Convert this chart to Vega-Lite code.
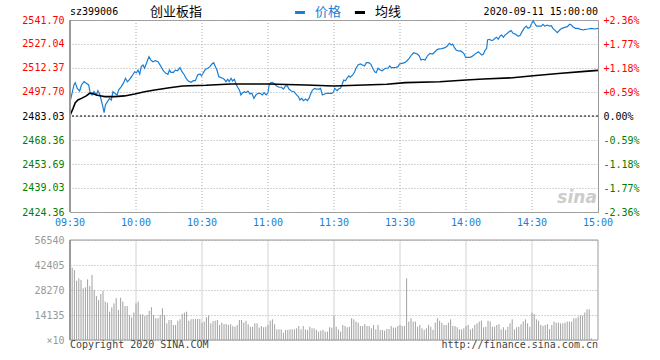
{
  "$schema": "https://vega.github.io/schema/vega-lite/v6.json",
  "width": 528,
  "height": 192,
  "autosize": {"type": "none"},
  "padding": {"left": 70, "top": 20, "right": 62, "bottom": 148},
  "background": "white",
  "data": {"values": [{}]},
  "config": {
    "font": "DejaVu Sans Mono",
    "view": {"stroke": "#9a9a9a", "strokeWidth": 1},
    "axis": {"labelFont": "DejaVu Sans Mono", "labelFontSize": 10, "labelFlush": false, "labelOverlap": false, "labelBound": false, "grid": false},
    "text": {"font": "DejaVu Sans Mono"}
  },
  "datasets": {
    "price": [
      {"t":0,"p":2491.5},{"t":1.8,"p":2502.0},{"t":2.4,"p":2503.4},{"t":3.3,"p":2499.9},{"t":4.4,"p":2498.3},{"t":5.2,"p":2502.0},{"t":6.4,"p":2504.0},{"t":7.4,"p":2503.0},{"t":8.5,"p":2502.0},{"t":9.2,"p":2496.9},{"t":10,"p":2495.9},{"t":10.9,"p":2497.9},{"t":12,"p":2495.9},{"t":12.7,"p":2498.5},{"t":13.5,"p":2496.5},{"t":14.2,"p":2492.8},{"t":15,"p":2488.3},{"t":15.5,"p":2485.1},{"t":16.1,"p":2489.8},{"t":17,"p":2491.8},{"t":18,"p":2493.8},{"t":18.8,"p":2492.8},{"t":19.5,"p":2497.9},{"t":20.3,"p":2496.9},{"t":21.4,"p":2495.9},{"t":22.1,"p":2498.9},{"t":23.3,"p":2501.0},{"t":24.4,"p":2503.4},{"t":25.2,"p":2506.1},{"t":26.1,"p":2504.0},{"t":27.1,"p":2505.4},{"t":28.2,"p":2507.5},{"t":29.4,"p":2510.1},{"t":30.2,"p":2509.5},{"t":30.9,"p":2511.1},{"t":31.7,"p":2508.7},{"t":32.4,"p":2513.2},{"t":33.2,"p":2514.2},{"t":33.9,"p":2512.2},{"t":35,"p":2516.2},{"t":35.9,"p":2519.3},{"t":36.7,"p":2517.3},{"t":37.7,"p":2516.2},{"t":38.8,"p":2516.8},{"t":40,"p":2516.2},{"t":41.4,"p":2513.2},{"t":42.4,"p":2510.7},{"t":43.6,"p":2509.1},{"t":44.5,"p":2508.5},{"t":45.2,"p":2511.1},{"t":45.9,"p":2509.7},{"t":47,"p":2509.7},{"t":47.9,"p":2511.1},{"t":48.9,"p":2510.7},{"t":50,"p":2512.6},{"t":50.9,"p":2510.1},{"t":52,"p":2508.1},{"t":52.7,"p":2506.1},{"t":53.8,"p":2504.4},{"t":55,"p":2503.6},{"t":56.1,"p":2504.6},{"t":57,"p":2504.6},{"t":58,"p":2508.1},{"t":59.1,"p":2508.7},{"t":59.8,"p":2507.5},{"t":60.6,"p":2509.5},{"t":61.5,"p":2511.5},{"t":62.6,"p":2512.2},{"t":63.6,"p":2513.2},{"t":64.5,"p":2514.8},{"t":65.3,"p":2515.6},{"t":66.1,"p":2513.2},{"t":66.8,"p":2511.1},{"t":67.6,"p":2507.1},{"t":68.6,"p":2506.5},{"t":69.4,"p":2506.1},{"t":70.2,"p":2505.4},{"t":70.9,"p":2504.0},{"t":71.7,"p":2505.4},{"t":72.4,"p":2504.0},{"t":73.2,"p":2506.1},{"t":73.9,"p":2504.4},{"t":74.7,"p":2505.4},{"t":75.5,"p":2502.6},{"t":76.2,"p":2500.6},{"t":77,"p":2498.9},{"t":77.7,"p":2495.9},{"t":78.5,"p":2497.3},{"t":79.2,"p":2497.9},{"t":80,"p":2497.3},{"t":80.9,"p":2498.3},{"t":81.8,"p":2496.5},{"t":82.7,"p":2496.9},{"t":83.6,"p":2493.8},{"t":84.5,"p":2495.9},{"t":85.5,"p":2496.9},{"t":86.4,"p":2496.9},{"t":87.4,"p":2495.9},{"t":88.2,"p":2497.3},{"t":89.1,"p":2495.9},{"t":90,"p":2497.3},{"t":90.5,"p":2502.0},{"t":91.2,"p":2503.4},{"t":92,"p":2503.6},{"t":93,"p":2502.6},{"t":93.9,"p":2501.4},{"t":95,"p":2500.6},{"t":96.1,"p":2500.6},{"t":97,"p":2499.5},{"t":98,"p":2501.4},{"t":98.8,"p":2501.4},{"t":99.5,"p":2499.5},{"t":100.6,"p":2498.3},{"t":101.8,"p":2497.9},{"t":103,"p":2495.9},{"t":103.8,"p":2494.9},{"t":104.5,"p":2492.8},{"t":105.3,"p":2493.8},{"t":106.1,"p":2492.4},{"t":107.1,"p":2493.4},{"t":107.9,"p":2492.4},{"t":108.6,"p":2493.8},{"t":109.4,"p":2496.5},{"t":110.2,"p":2498.9},{"t":111.2,"p":2499.9},{"t":112.1,"p":2499.5},{"t":113.2,"p":2499.5},{"t":113.9,"p":2499.9},{"t":114.7,"p":2495.9},{"t":115.8,"p":2496.5},{"t":116.7,"p":2496.9},{"t":117.7,"p":2496.9},{"t":118.8,"p":2496.9},{"t":119.7,"p":2497.3},{"t":120.3,"p":2499.9},{"t":121.4,"p":2498.5},{"t":122.1,"p":2499.5},{"t":122.9,"p":2499.9},{"t":123.6,"p":2502.0},{"t":124.4,"p":2505.0},{"t":125.2,"p":2504.6},{"t":125.9,"p":2506.1},{"t":126.7,"p":2507.5},{"t":127.4,"p":2506.7},{"t":128.5,"p":2508.1},{"t":129.4,"p":2510.1},{"t":130,"p":2512.2},{"t":130.9,"p":2514.2},{"t":132,"p":2514.8},{"t":133,"p":2514.2},{"t":133.9,"p":2513.6},{"t":134.7,"p":2515.6},{"t":135.8,"p":2515.6},{"t":136.8,"p":2514.6},{"t":137.6,"p":2512.2},{"t":138.5,"p":2510.1},{"t":139.2,"p":2509.5},{"t":140,"p":2512.2},{"t":141.1,"p":2511.1},{"t":141.8,"p":2510.7},{"t":142.6,"p":2511.5},{"t":143.3,"p":2512.2},{"t":144.5,"p":2512.2},{"t":145.3,"p":2513.6},{"t":146.1,"p":2512.6},{"t":147.1,"p":2512.6},{"t":148.2,"p":2512.8},{"t":149.1,"p":2513.2},{"t":149.8,"p":2514.8},{"t":150.9,"p":2515.2},{"t":152.1,"p":2515.6},{"t":153.2,"p":2516.8},{"t":154.2,"p":2518.3},{"t":155.2,"p":2520.3},{"t":156.2,"p":2521.7},{"t":157,"p":2521.3},{"t":157.9,"p":2520.9},{"t":158.8,"p":2519.7},{"t":159.5,"p":2517.3},{"t":160.3,"p":2517.7},{"t":161.4,"p":2517.3},{"t":162.4,"p":2519.7},{"t":163.6,"p":2521.3},{"t":164.8,"p":2520.9},{"t":165.9,"p":2522.3},{"t":167,"p":2523.8},{"t":168.2,"p":2524.0},{"t":169.4,"p":2524.4},{"t":170.5,"p":2524.8},{"t":171.5,"p":2525.8},{"t":172.4,"p":2527.4},{"t":173.3,"p":2526.4},{"t":173.9,"p":2527.0},{"t":174.7,"p":2525.0},{"t":175.5,"p":2523.4},{"t":176.5,"p":2522.8},{"t":177.6,"p":2522.8},{"t":178.5,"p":2521.9},{"t":179.2,"p":2520.9},{"t":179.8,"p":2518.9},{"t":180.6,"p":2518.9},{"t":181.8,"p":2518.9},{"t":182.6,"p":2519.3},{"t":183.6,"p":2520.3},{"t":184.5,"p":2521.3},{"t":185.6,"p":2522.3},{"t":186.4,"p":2521.3},{"t":187.1,"p":2520.3},{"t":187.9,"p":2520.9},{"t":188.6,"p":2523.0},{"t":189.4,"p":2524.4},{"t":189.8,"p":2529.5},{"t":190.6,"p":2529.9},{"t":191.7,"p":2529.1},{"t":192.4,"p":2529.5},{"t":193.2,"p":2530.5},{"t":193.9,"p":2531.1},{"t":194.7,"p":2529.9},{"t":195.5,"p":2531.9},{"t":196.2,"p":2532.5},{"t":197,"p":2531.1},{"t":197.7,"p":2532.5},{"t":198.8,"p":2533.6},{"t":199.7,"p":2534.6},{"t":200.5,"p":2535.2},{"t":201.4,"p":2533.6},{"t":202.4,"p":2533.1},{"t":203.6,"p":2531.9},{"t":204.5,"p":2532.1},{"t":205.5,"p":2534.6},{"t":206.4,"p":2536.6},{"t":207.4,"p":2538.0},{"t":208.2,"p":2536.6},{"t":209.1,"p":2537.2},{"t":209.7,"p":2539.3},{"t":210.5,"p":2541.3},{"t":211.2,"p":2539.7},{"t":212,"p":2538.0},{"t":213,"p":2538.0},{"t":214.2,"p":2538.0},{"t":215,"p":2539.1},{"t":215.8,"p":2538.0},{"t":217,"p":2538.6},{"t":218,"p":2538.0},{"t":218.8,"p":2538.2},{"t":219.5,"p":2536.6},{"t":220.6,"p":2535.2},{"t":221.5,"p":2534.0},{"t":222.6,"p":2535.6},{"t":223.6,"p":2536.6},{"t":224.8,"p":2537.2},{"t":226.1,"p":2537.6},{"t":227.1,"p":2539.1},{"t":227.9,"p":2538.6},{"t":228.6,"p":2537.6},{"t":229.7,"p":2536.6},{"t":230.9,"p":2536.6},{"t":232.1,"p":2536.0},{"t":233.2,"p":2535.6},{"t":234.2,"p":2536.0},{"t":235.5,"p":2536.2},{"t":237,"p":2536.6},{"t":238.5,"p":2536.2},{"t":240,"p":2536.6}
    ],
    "avg": [
      {"t":0,"a":2483.3},{"t":1.4,"a":2487.7},{"t":2.4,"a":2491.2},{"t":3.6,"a":2492.8},{"t":5.2,"a":2493.8},{"t":7.4,"a":2495.3},{"t":8.9,"a":2496.9},{"t":10,"a":2496.9},{"t":12,"a":2495.9},{"t":14.2,"a":2495.3},{"t":15.8,"a":2494.9},{"t":20.3,"a":2494.9},{"t":24.8,"a":2495.3},{"t":29.4,"a":2496.5},{"t":33.9,"a":2497.9},{"t":38.5,"a":2498.9},{"t":45.2,"a":2500.3},{"t":51.2,"a":2501.4},{"t":61.8,"a":2501.8},{"t":73.2,"a":2502.6},{"t":90,"a":2502.6},{"t":107.1,"a":2502.0},{"t":120,"a":2501.4},{"t":144,"a":2502.4},{"t":152.4,"a":2503.4},{"t":168,"a":2504.0},{"t":180,"a":2505.0},{"t":188,"a":2505.6},{"t":200,"a":2506.3},{"t":210.5,"a":2507.6},{"t":222,"a":2509.0},{"t":234,"a":2510.3},{"t":240,"a":2510.9}
    ],
    "vol": [
      {"t":1,"v":40900},{"t":2,"v":39600},{"t":3,"v":33500},{"t":4,"v":34900},{"t":5,"v":33900},{"t":6,"v":29200},{"t":7,"v":29800},{"t":8,"v":34300},{"t":9,"v":30500},{"t":10,"v":36800},
      {"t":11,"v":28300},{"t":12,"v":24900},{"t":13,"v":22600},{"t":14,"v":26000},{"t":15,"v":27700},{"t":16,"v":21700},{"t":17,"v":21100},{"t":18,"v":16000},{"t":19,"v":18500},{"t":20,"v":20700},
      {"t":21,"v":23600},{"t":22,"v":17000},{"t":23,"v":23900},{"t":24,"v":21700},{"t":25,"v":19200},{"t":26,"v":19200},{"t":27,"v":14100},{"t":28,"v":12800},{"t":29,"v":15500},{"t":30,"v":20700},
      {"t":31,"v":21700},{"t":32,"v":14500},{"t":33,"v":14500},{"t":34,"v":13600},{"t":35,"v":14100},{"t":36,"v":16400},{"t":37,"v":18500},{"t":38,"v":14100},{"t":39,"v":12300},{"t":40,"v":12300},
      {"t":41,"v":14100},{"t":42,"v":17900},{"t":43,"v":14100},{"t":44,"v":9400},{"t":45,"v":11300},{"t":46,"v":11300},{"t":47,"v":8500},{"t":48,"v":8500},{"t":49,"v":10900},{"t":50,"v":11700},
      {"t":51,"v":14700},{"t":52,"v":15500},{"t":53,"v":16000},{"t":54,"v":10900},{"t":55,"v":11700},{"t":56,"v":11900},{"t":57,"v":11900},{"t":58,"v":11900},{"t":59,"v":11900},{"t":60,"v":9800},
      {"t":61,"v":10400},{"t":62,"v":12800},{"t":63,"v":13800},{"t":64,"v":9400},{"t":65,"v":10700},{"t":66,"v":10900},{"t":67,"v":11300},{"t":68,"v":8500},{"t":69,"v":9800},{"t":70,"v":9000},
      {"t":71,"v":9000},{"t":72,"v":8500},{"t":73,"v":8900},{"t":74,"v":7900},{"t":75,"v":7500},{"t":76,"v":8500},{"t":77,"v":11300},{"t":78,"v":11300},{"t":79,"v":9800},{"t":80,"v":10900},
      {"t":81,"v":8900},{"t":82,"v":7500},{"t":83,"v":7500},{"t":84,"v":9400},{"t":85,"v":9400},{"t":86,"v":7000},{"t":87,"v":7900},{"t":88,"v":7200},{"t":89,"v":7500},{"t":90,"v":8500},
      {"t":91,"v":10900},{"t":92,"v":11700},{"t":93,"v":8900},{"t":94,"v":6000},{"t":95,"v":6000},{"t":96,"v":6000},{"t":97,"v":4100},{"t":98,"v":5700},{"t":99,"v":5700},{"t":100,"v":6000},
      {"t":101,"v":6000},{"t":102,"v":6000},{"t":103,"v":6600},{"t":104,"v":7900},{"t":105,"v":6000},{"t":106,"v":7900},{"t":107,"v":6000},{"t":108,"v":5700},{"t":109,"v":7500},{"t":110,"v":6600},
      {"t":111,"v":6600},{"t":112,"v":5700},{"t":113,"v":4700},{"t":114,"v":5300},{"t":115,"v":5700},{"t":116,"v":4700},{"t":117,"v":4700},{"t":118,"v":7200},{"t":119,"v":7000},{"t":120,"v":13800},
      {"t":121,"v":7500},{"t":122,"v":6000},{"t":123,"v":4700},{"t":124,"v":8500},{"t":125,"v":7900},{"t":126,"v":7200},{"t":127,"v":7500},{"t":128,"v":12300},{"t":129,"v":11700},{"t":130,"v":10400},
      {"t":131,"v":9800},{"t":132,"v":7900},{"t":133,"v":7900},{"t":134,"v":9000},{"t":135,"v":7900},{"t":136,"v":7900},{"t":137,"v":6600},{"t":138,"v":8500},{"t":139,"v":6000},{"t":140,"v":8500},
      {"t":141,"v":5700},{"t":142,"v":5700},{"t":143,"v":5300},{"t":144,"v":6200},{"t":145,"v":6200},{"t":146,"v":7900},{"t":147,"v":7000},{"t":148,"v":7000},{"t":149,"v":7900},{"t":150,"v":8500},
      {"t":151,"v":7900},{"t":152,"v":7900},{"t":153,"v":34900},{"t":154,"v":10400},{"t":155,"v":12300},{"t":156,"v":10400},{"t":157,"v":10400},{"t":158,"v":7500},{"t":159,"v":8500},{"t":160,"v":6600},
      {"t":161,"v":5700},{"t":162,"v":6600},{"t":163,"v":8500},{"t":164,"v":7500},{"t":165,"v":5700},{"t":166,"v":9800},{"t":167,"v":12300},{"t":168,"v":10900},{"t":169,"v":9800},{"t":170,"v":8500},
      {"t":171,"v":8500},{"t":172,"v":9800},{"t":173,"v":11700},{"t":174,"v":7900},{"t":175,"v":7900},{"t":176,"v":7200},{"t":177,"v":6000},{"t":178,"v":6000},{"t":179,"v":6600},{"t":180,"v":7900},
      {"t":181,"v":8500},{"t":182,"v":6000},{"t":183,"v":6600},{"t":184,"v":8500},{"t":185,"v":9400},{"t":186,"v":10400},{"t":187,"v":10900},{"t":188,"v":7200},{"t":189,"v":7500},{"t":190,"v":10900},
      {"t":191,"v":10400},{"t":192,"v":7500},{"t":193,"v":7500},{"t":194,"v":8500},{"t":195,"v":8900},{"t":196,"v":6000},{"t":197,"v":7200},{"t":198,"v":5700},{"t":199,"v":7500},{"t":200,"v":9400},
      {"t":201,"v":11700},{"t":202,"v":6000},{"t":203,"v":7200},{"t":204,"v":7500},{"t":205,"v":8900},{"t":206,"v":10400},{"t":207,"v":11700},{"t":208,"v":9400},{"t":209,"v":7500},{"t":210,"v":15500},
      {"t":211,"v":14700},{"t":212,"v":11700},{"t":213,"v":10900},{"t":214,"v":8500},{"t":215,"v":7900},{"t":216,"v":8500},{"t":217,"v":8900},{"t":218,"v":6200},{"t":219,"v":8500},{"t":220,"v":10400},
      {"t":221,"v":9800},{"t":222,"v":9800},{"t":223,"v":9400},{"t":224,"v":9400},{"t":225,"v":9800},{"t":226,"v":10400},{"t":227,"v":10400},{"t":228,"v":10400},{"t":229,"v":12300},{"t":230,"v":12300},
      {"t":231,"v":13200},{"t":232,"v":14100},{"t":233,"v":13800},{"t":234,"v":15500},{"t":235,"v":17300},{"t":236,"v":17300},{"t":237,"v":900}
    ],
    "vgrid": [{"t":30},{"t":60},{"t":90},{"t":120},{"t":150},{"t":180},{"t":210}],
    "vgrid2": [{"t":30,"v":56540},{"t":60,"v":56540},{"t":90,"v":56540},{"t":120,"v":56540},{"t":150,"v":56540},{"t":180,"v":56540},{"t":210,"v":56540}],
    "times": [{"t":0,"lab":"09:30"},{"t":30,"lab":"10:00"},{"t":60,"lab":"10:30"},{"t":90,"lab":"11:00"},{"t":120,"lab":"11:30"},{"t":150,"lab":"13:30"},{"t":180,"lab":"14:00"},{"t":210,"lab":"14:30"},{"t":240,"lab":"15:00"}]
  },
  "layer": [
    {
      "data": {"name": "vgrid2"},
      "mark": {"type": "rule", "color": "#d2d2d2", "strokeWidth": 1},
      "encoding": {
        "x": {"field": "t", "type": "quantitative", "axis": null, "scale": {"domain": [0, 240], "nice": false, "zero": false}},
        "y": {"field": "v", "type": "quantitative", "axis": null, "scale": {"domain": [0, 56540], "range": [320, 220], "nice": false, "zero": false}},
        "y2": {"datum": 0}
      }
    },
    {
      "data": {"name": "vol"},
      "mark": {"type": "rule", "color": "#a0a0a0", "strokeWidth": 1},
      "encoding": {
        "x": {"field": "t", "type": "quantitative", "axis": null},
        "y": {"field": "v", "type": "quantitative", "scale": {"domain": [0, 56540], "range": [320, 220], "nice": false, "zero": false},
          "axis": {"title": null, "orient": "left", "values": [0, 14135, 28270, 42405, 56540],
            "labelExpr": "datum.value == 0 ? '×10' : format(datum.value, 'd')",
            "grid": true, "gridDash": [1, 2], "gridColor": "#aaaaaa", "domain": false, "ticks": false,
            "labelColor": "#999999", "labelPadding": 6}},
        "y2": {"datum": 0}
      }
    },
    {
      "data": {"name": "price"},
      "mark": {"type": "line", "color": "#1a7ed4", "strokeWidth": 1.2, "interpolate": "linear"},
      "encoding": {
        "x": {"field": "t", "type": "quantitative", "axis": null},
        "y": {"field": "p", "type": "quantitative", "scale": {"domain": [2424.36, 2541.70], "nice": false, "zero": false},
          "axis": {"title": null, "orient": "left",
            "values": [2424.36, 2439.03, 2453.69, 2468.36, 2483.03, 2497.70, 2512.37, 2527.04, 2541.70],
            "format": ".2f", "grid": false, "domain": false, "ticks": false, "labelPadding": 6,
            "labelColor": {"condition": [{"test": "datum.value > 2483.1", "value": "#ff0000"}, {"test": "datum.value < 2483.0", "value": "#008000"}], "value": "#000000"}}}
      }
    },
    {
      "mark": {"type": "rule", "color": "#000000", "strokeDash": [2, 2], "strokeWidth": 1},
      "encoding": {
        "y": {"datum": 0, "type": "quantitative", "scale": {"domain": [-2.3628, 2.3628], "nice": false, "zero": false},
          "axis": {"title": null, "orient": "right",
            "values": [-2.3628, -1.7721, -1.1814, -0.5907, 0, 0.5907, 1.1814, 1.7721, 2.3628],
            "labelExpr": "(datum.value > 0.001 ? '+' : (datum.value < -0.001 ? '-' : '')) + format(abs(datum.value), '.2f') + '%'",
            "grid": true, "gridDash": [1, 2], "gridColor": "#aaaaaa", "domain": false, "ticks": false, "labelPadding": 5,
            "labelColor": {"condition": [{"test": "datum.value > 0.001", "value": "#ff0000"}, {"test": "datum.value < -0.001", "value": "#008000"}], "value": "#000000"}}}
      }
    },
    {
      "data": {"name": "vgrid"},
      "mark": {"type": "rule", "color": "#aaaaaa", "strokeDash": [1, 2], "strokeWidth": 1},
      "encoding": {"x": {"field": "t", "type": "quantitative", "axis": null}}
    },
    {
      "data": {"name": "times"},
      "mark": {"type": "text", "align": "center", "baseline": "middle", "fontSize": 10, "color": "#1a7ed4"},
      "encoding": {
        "x": {"field": "t", "type": "quantitative", "axis": null},
        "y": {"datum": 2417.4, "type": "quantitative", "axis": null, "scale": {"domain": [2424.36, 2541.70], "nice": false, "zero": false}},
        "text": {"field": "lab", "type": "nominal"}
      }
    },
    {
      "data": {"name": "avg"},
      "mark": {"type": "line", "color": "#000000", "strokeWidth": 1.6},
      "encoding": {
        "x": {"field": "t", "type": "quantitative", "axis": null},
        "y": {"field": "a", "type": "quantitative", "axis": null, "scale": {"domain": [2424.36, 2541.70], "nice": false, "zero": false}}
      }
    },
    {
      "mark": {"type": "rect", "fill": null, "fillOpacity": 0, "stroke": "#9a9a9a", "strokeWidth": 1},
      "encoding": {
        "x": {"datum": 0, "type": "quantitative", "axis": null}, "x2": {"datum": 240},
        "y": {"datum": 0, "type": "quantitative", "axis": null, "scale": {"domain": [0, 56540], "range": [320, 220], "nice": false, "zero": false}}, "y2": {"datum": 56540}
      }
    },
    {
      "mark": {"type": "rule", "color": "#9a9a9a", "strokeWidth": 2},
      "encoding": {
        "x": {"datum": 0, "type": "quantitative", "axis": null},
        "y": {"datum": 0, "type": "quantitative", "axis": null, "scale": {"domain": [0, 56540], "range": [320, 220], "nice": false, "zero": false}}, "y2": {"datum": 56540}
      }
    },
    {
      "mark": {"type": "rule", "color": "#9a9a9a", "strokeWidth": 2},
      "encoding": {
        "x": {"datum": 0, "type": "quantitative", "axis": null},
        "y": {"datum": 2424.36, "type": "quantitative", "axis": null, "scale": {"domain": [2424.36, 2541.70], "nice": false, "zero": false}}, "y2": {"datum": 2541.70}
      }
    },
    {
      "mark": {"type": "text", "align": "left", "baseline": "middle", "fontSize": 10, "color": "#444444", "text": "Copyright 2020 SINA.COM"},
      "encoding": {
        "x": {"datum": 0, "type": "quantitative", "axis": null},
        "y": {"datum": -3000, "type": "quantitative", "axis": null, "scale": {"domain": [0, 56540], "range": [320, 220], "nice": false, "zero": false}}
      }
    },
    {
      "mark": {"type": "text", "align": "right", "baseline": "middle", "fontSize": 10, "color": "#444444", "text": "http://finance.sina.com.cn"},
      "encoding": {
        "x": {"datum": 240, "type": "quantitative", "axis": null},
        "y": {"datum": -3000, "type": "quantitative", "axis": null, "scale": {"domain": [0, 56540], "range": [320, 220], "nice": false, "zero": false}}
      }
    },
    {
      "mark": {"type": "text", "align": "left", "baseline": "middle", "fontSize": 10, "color": "#000000", "text": "sz399006"},
      "encoding": {"x": {"datum": 0, "type": "quantitative", "axis": null}, "y": {"datum": 2546.3, "type": "quantitative", "axis": null, "scale": {"domain": [2424.36, 2541.70], "nice": false, "zero": false}}}
    },
    {
      "mark": {"type": "text", "align": "left", "baseline": "middle", "fontSize": 13, "font": "Noto Sans CJK SC", "color": "#000000", "text": "创业板指"},
      "encoding": {"x": {"datum": 36.4, "type": "quantitative", "axis": null}, "y": {"datum": 2546.3, "type": "quantitative", "axis": null, "scale": {"domain": [2424.36, 2541.70], "nice": false, "zero": false}}}
    },
    {
      "mark": {"type": "rule", "color": "#1a7ed4", "strokeWidth": 3},
      "encoding": {"x": {"datum": 102.3, "type": "quantitative", "axis": null}, "x2": {"datum": 106.8}, "y": {"datum": 2546.3, "type": "quantitative", "axis": null, "scale": {"domain": [2424.36, 2541.70], "nice": false, "zero": false}}}
    },
    {
      "mark": {"type": "text", "align": "left", "baseline": "middle", "fontSize": 13, "font": "Noto Sans CJK SC", "color": "#1a7ed4", "text": "价格"},
      "encoding": {"x": {"datum": 111.4, "type": "quantitative", "axis": null}, "y": {"datum": 2546.3, "type": "quantitative", "axis": null, "scale": {"domain": [2424.36, 2541.70], "nice": false, "zero": false}}}
    },
    {
      "mark": {"type": "rule", "color": "#000000", "strokeWidth": 3},
      "encoding": {"x": {"datum": 129.5, "type": "quantitative", "axis": null}, "x2": {"datum": 134.1}, "y": {"datum": 2546.3, "type": "quantitative", "axis": null, "scale": {"domain": [2424.36, 2541.70], "nice": false, "zero": false}}}
    },
    {
      "mark": {"type": "text", "align": "left", "baseline": "middle", "fontSize": 13, "font": "Noto Sans CJK SC", "color": "#000000", "text": "均线"},
      "encoding": {"x": {"datum": 138.6, "type": "quantitative", "axis": null}, "y": {"datum": 2546.3, "type": "quantitative", "axis": null, "scale": {"domain": [2424.36, 2541.70], "nice": false, "zero": false}}}
    },
    {
      "mark": {"type": "text", "align": "right", "baseline": "middle", "fontSize": 10, "color": "#000000", "text": "2020-09-11 15:00:00"},
      "encoding": {"x": {"datum": 240, "type": "quantitative", "axis": null}, "y": {"datum": 2546.3, "type": "quantitative", "axis": null, "scale": {"domain": [2424.36, 2541.70], "nice": false, "zero": false}}}
    },
    {
      "mark": {"type": "text", "align": "right", "baseline": "middle", "fontSize": 17, "font": "DejaVu Sans", "fontStyle": "italic", "fontWeight": "bold", "color": "#cccccc", "text": "sina"},
      "encoding": {"x": {"datum": 239.5, "type": "quantitative", "axis": null}, "y": {"datum": 2432.9, "type": "quantitative", "axis": null, "scale": {"domain": [2424.36, 2541.70], "nice": false, "zero": false}}}
    }
  ],
  "resolve": {"scale": {"y": "independent"}}
}
